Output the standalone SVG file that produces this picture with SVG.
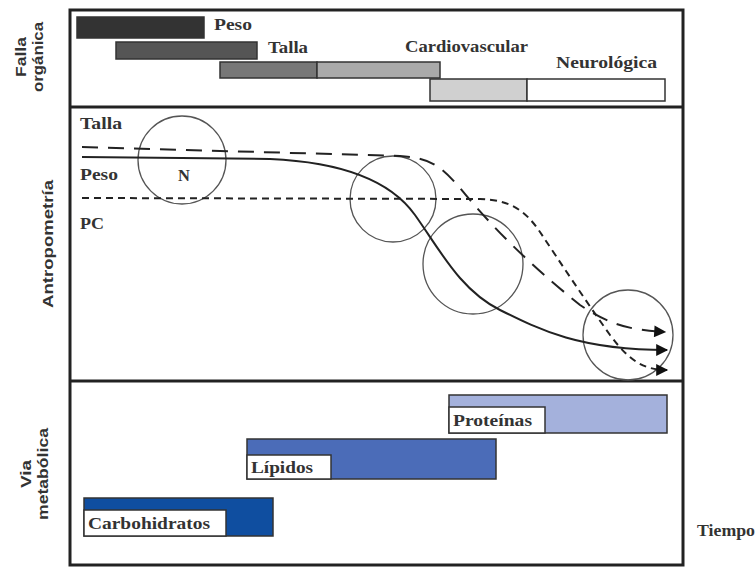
<svg xmlns="http://www.w3.org/2000/svg" width="756" height="567" viewBox="0 0 756 567">
<defs>
<style>
.lbl{font-family:"Liberation Serif","DejaVu Serif",serif;font-weight:bold;font-size:16.5px;fill:#333}
.side{font-family:"Liberation Sans","DejaVu Sans",sans-serif;font-weight:bold;font-size:15px;fill:#333}
.bar{stroke:#333;stroke-width:1.5}
.circ{fill:none;stroke:#555;stroke-width:1.3}
.curve{fill:none;stroke:#222;stroke-width:2}
</style>
<marker id="ah2" viewBox="0 0 10 10" refX="9" refY="5" markerWidth="14" markerHeight="12" markerUnits="userSpaceOnUse" orient="auto">
<path d="M0,0 L10,5 L0,10 z" fill="#111"/>
</marker>
</defs>
<rect width="756" height="567" fill="#fff"/>
<g id="frame">
<rect x="70" y="10" width="613" height="555" fill="none" stroke="#222" stroke-width="3"/>
<line x1="70" y1="107" x2="683" y2="107" stroke="#222" stroke-width="3"/>
<line x1="70" y1="381" x2="683" y2="381" stroke="#222" stroke-width="3"/>
</g>
<g id="side-labels">
<text class="side" text-anchor="middle" transform="translate(26,57) rotate(-90)" textLength="40" lengthAdjust="spacingAndGlyphs">Falla</text>
<text class="side" text-anchor="middle" transform="translate(43,57) rotate(-90)" textLength="70" lengthAdjust="spacingAndGlyphs">orgánica</text>
<text class="side" text-anchor="middle" transform="translate(53,244) rotate(-90)" textLength="128" lengthAdjust="spacingAndGlyphs">Antropometría</text>
<text class="side" text-anchor="middle" transform="translate(31,474) rotate(-90)" textLength="28" lengthAdjust="spacingAndGlyphs">Via</text>
<text class="side" text-anchor="middle" transform="translate(48,474) rotate(-90)" textLength="92" lengthAdjust="spacingAndGlyphs">metabólica</text>
</g>
<g id="falla-peso">
<rect class="bar" x="77" y="17" width="127" height="21" fill="#333"/>
<text class="lbl" x="214" y="30" textLength="38" lengthAdjust="spacingAndGlyphs">Peso</text>
</g>
<g id="falla-talla">
<rect class="bar" x="116" y="42" width="141" height="17" fill="#555"/>
<text class="lbl" x="268" y="53" textLength="40" lengthAdjust="spacingAndGlyphs">Talla</text>
</g>
<g id="falla-cardiovascular">
<rect class="bar" x="220" y="62" width="97" height="16" fill="#777"/>
<rect class="bar" x="317" y="62" width="123" height="16" fill="#aaa"/>
<text class="lbl" x="405" y="52" textLength="123" lengthAdjust="spacingAndGlyphs">Cardiovascular</text>
</g>
<g id="falla-neurologica">
<rect class="bar" x="430" y="79" width="97" height="22" fill="#d0d0d0"/>
<rect class="bar" x="527" y="79" width="138" height="22" fill="#fff"/>
<text class="lbl" x="556" y="68" textLength="101" lengthAdjust="spacingAndGlyphs">Neurológica</text>
</g>
<g id="antro-labels">
<text class="lbl" x="80" y="129" textLength="42" lengthAdjust="spacingAndGlyphs">Talla</text>
<text class="lbl" x="80" y="180" textLength="38" lengthAdjust="spacingAndGlyphs">Peso</text>
<text class="lbl" x="80" y="229" textLength="24" lengthAdjust="spacingAndGlyphs">PC</text>
</g>
<g id="circle-n">
<circle class="circ" cx="182" cy="160" r="44"/>
<text class="lbl" x="184" y="181" text-anchor="middle">N</text>
</g>
<g id="circle-2"><circle class="circ" cx="393" cy="199" r="43"/></g>
<g id="circle-3"><circle class="circ" cx="473" cy="264" r="50"/></g>
<g id="circle-4"><circle class="circ" cx="628" cy="335" r="45"/></g>
<g id="connectors">
<path class="curve" d="M82,157 L270,159 C340,162 390,180 415,215 C440,250 460,290 500,310 C540,330 580,350 667,350" marker-end="url(#ah2)"/>
<path class="curve" stroke-dasharray="16,10" d="M82,147 L400,156 C430,158 440,165 460,188 C490,225 530,265 580,305 C610,325 630,330 665,332" marker-end="url(#ah2)"/>
<path class="curve" stroke-dasharray="7,5" d="M82,198 L480,199 C510,200 525,210 540,232 C560,262 585,300 610,335 C630,362 645,370 667,370" marker-end="url(#ah2)"/>
</g>
<g id="via-proteinas">
<rect class="bar" x="449" y="395" width="218" height="38" fill="#a4b1dc"/>
<rect class="bar" x="449" y="407" width="96" height="26" fill="#fff"/>
<text class="lbl" x="453" y="426" textLength="79" lengthAdjust="spacingAndGlyphs">Proteínas</text>
</g>
<g id="via-lipidos">
<rect class="bar" x="247" y="439" width="249" height="40" fill="#4b6cb8"/>
<rect class="bar" x="247" y="455" width="84" height="24" fill="#fff"/>
<text class="lbl" x="251" y="473" textLength="62" lengthAdjust="spacingAndGlyphs">Lípidos</text>
</g>
<g id="via-carbohidratos">
<rect class="bar" x="84" y="498" width="189" height="38" fill="#0f4ea0"/>
<rect class="bar" x="84" y="510" width="142" height="26" fill="#fff"/>
<text class="lbl" x="88" y="529" textLength="122" lengthAdjust="spacingAndGlyphs">Carbohidratos</text>
</g>
<text class="lbl" x="697" y="536" textLength="58" lengthAdjust="spacingAndGlyphs">Tiempo</text>
</svg>
